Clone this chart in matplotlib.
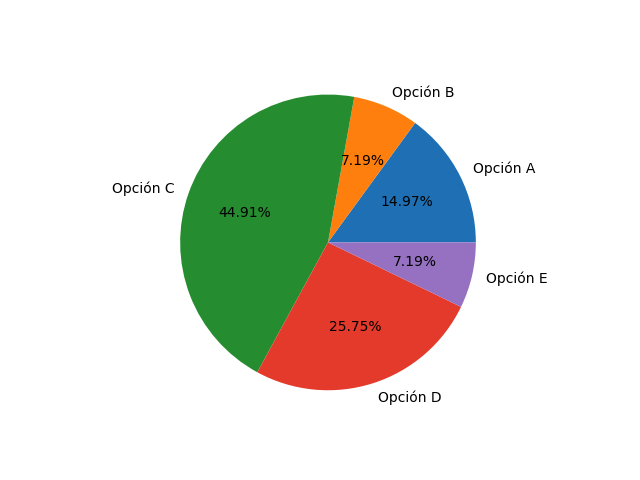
import matplotlib
matplotlib.use("Agg")
import matplotlib.pyplot as plt

labels = ['Opción A', 'Opción B', 'Opción C', 'Opción D', 'Opción E']
counts = [25, 12, 75, 43, 12]
colors = ['#1f6fb4', '#ff7f0e', '#268c30', '#e33a2b', '#9671c1']

fig, ax = plt.subplots(figsize=(6.4, 4.8), dpi=100)
ax.pie(counts, labels=labels, colors=colors, autopct='%1.2f%%')
plt.savefig('out.png', dpi=100)
